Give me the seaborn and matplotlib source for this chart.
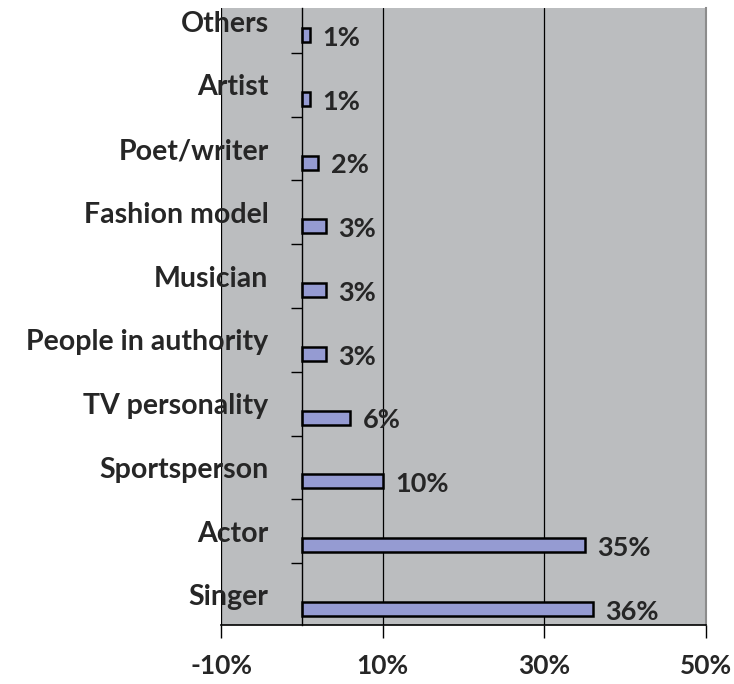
import matplotlib.pyplot as plt
import seaborn as sns
import pandas as pd

categories = ["Others", "Artist", "Poet/writer", "Fashion model", "Musician",
              "People in authority", "TV personality", "Sportsperson", "Actor", "Singer"]
shares = [1, 1, 2, 3, 3, 3, 6, 10, 35, 36]
xticks = [-10, 10, 30, 50]

sns.set_style("white")
plt.rcParams["font.family"] = ["Lato", "DejaVu Sans"]
plt.rcParams["font.weight"] = "bold"

df = pd.DataFrame({"category": categories, "share": shares})

fig = plt.figure(figsize=(7.34, 6.84), dpi=100)
ax = fig.add_axes([0.3011, 0.0863, 0.6608, 0.9020])
ax.set_facecolor("#BBBDBF")

sns.barplot(data=df, x="share", y="category", orient="h", color="#959BD2",
            saturation=1, width=0.22, edgecolor="black", linewidth=1.8, ax=ax)

ax.set_xlim(-10, 50)
ax.set_ylim(9.25, -0.424)
ax.set_xticks(xticks)
ax.set_xticklabels([f"{t}%" for t in xticks])
ax.xaxis.grid(True, color="black", lw=0.9)
ax.set_axisbelow(True)

# category labels at band centres, boundary ticks on the zero line
n = len(categories)
ax.set_yticks([i - 0.22 for i in range(n)])
ax.set_yticklabels(categories)
ax.set_yticks([i + 0.28 for i in range(n - 1)], minor=True)
ax.tick_params(axis="y", which="major", left=True, length=0, pad=24, labelsize=20.5)
ax.tick_params(axis="y", which="minor", left=True, length=8, width=1,
               color="black", direction="out")
ax.tick_params(axis="x", bottom=True, length=9, width=1, color="black",
               pad=12, labelsize=19)

ax.spines["left"].set_position(("data", 0))
ax.spines["left"].set_color("black")
ax.spines["left"].set_linewidth(1)
ax.spines["bottom"].set_color("black")
ax.spines["bottom"].set_linewidth(1.2)
ax.spines["top"].set_visible(False)
ax.spines["right"].set_color("#8C8C8C")
ax.spines["right"].set_linewidth(1.5)
ax.axvline(-10, color="#8C8C8C", lw=1.5, zorder=0.5)

ax.set_xlabel("")
ax.set_ylabel("")

for i, v in enumerate(shares):
    ax.annotate(f"{v}%", xy=(v, i), xytext=(9, -2), textcoords="offset points",
                ha="left", va="center", fontsize=19.5, fontweight="bold")

fig.savefig("out.png", dpi=100)
